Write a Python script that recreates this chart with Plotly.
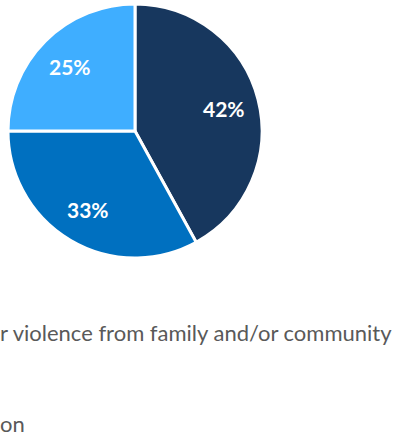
import math
import plotly.graph_objects as go

# Share of respondents per reason (percent)
shares = [42, 33, 25]
slice_colors = ["#17375E", "#0070C0", "#3FAEFF"]
# Legend entries, in the same order as the slices
legend_text = ["r violence from family and/or community", "", "on"]

W, H = 402, 436
cx, cy, r = 135, 131, 127  # pie centre and radius in pixels (from top-left)
label_radius = 0.72 * r    # distance of the percent labels from the centre

fig = go.Figure(
    go.Pie(
        values=shares,
        sort=False,
        direction="clockwise",
        rotation=0,
        marker=dict(colors=slice_colors, line=dict(color="white", width=3)),
        textinfo="none",
        hoverinfo="skip",
        domain=dict(
            x=[(cx - r) / W, (cx + r) / W],
            y=[(H - cy - r) / H, (H - cy + r) / H],
        ),
        showlegend=False,
    )
)

# Percent labels placed on each slice's bisector
total = sum(shares)
cum = 0
for v in shares:
    theta = math.radians(360 * (cum + v / 2) / total)
    cum += v
    px = cx + label_radius * math.sin(theta)
    py = cy - label_radius * math.cos(theta)
    fig.add_annotation(
        text=f"<b>{v}%</b>",
        x=px / W,
        y=1 - py / H,
        xref="paper",
        yref="paper",
        xanchor="center",
        yanchor="middle",
        showarrow=False,
        font=dict(family="Lato", size=21, color="white"),
    )

# Legend text rows below the pie
row_y = [332, 378, 423]
for txt, y in zip(legend_text, row_y):
    if not txt:
        continue
    fig.add_annotation(
        text=txt,
        x=-2 / W,
        y=1 - y / H,
        xref="paper",
        yref="paper",
        xanchor="left",
        yanchor="middle",
        showarrow=False,
        font=dict(family="Lato", size=22, color="#595959"),
    )

fig.update_layout(
    width=W,
    height=H,
    margin=dict(l=0, r=0, t=0, b=0),
    paper_bgcolor="white",
    plot_bgcolor="white",
)

fig.write_html("out.html")
